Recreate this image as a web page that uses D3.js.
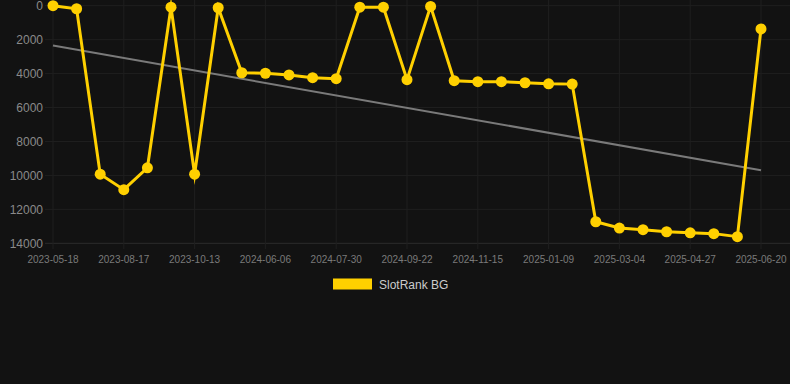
<!DOCTYPE html>
<html>
  <head>
    <script src="https://d3js.org/d3.v7.min.js"></script>
    <style>
      body {
        margin: 0;
        background-color: #121212;
        font-family: "Liberation Sans", Arial, sans-serif;
      }
    </style>
  </head>
  <body>
    <div id="chartContainer"></div>
  </body>

  <script type="text/javascript">
    const dates = [
      "2023-05-18", "2023-06-18", "2023-07-18", "2023-08-17", "2023-09-05",
      "2023-09-24", "2023-10-13", "2023-12-31", "2024-03-19", "2024-06-06",
      "2024-06-24", "2024-07-12", "2024-07-30", "2024-08-17", "2024-09-04",
      "2024-09-22", "2024-10-10", "2024-10-28", "2024-11-15", "2024-12-03",
      "2024-12-21", "2025-01-09", "2025-01-27", "2025-02-14", "2025-03-04",
      "2025-03-22", "2025-04-09", "2025-04-27", "2025-05-15", "2025-06-02",
      "2025-06-20"
    ];
    const ranks = [
      0, 180, 9930, 10840, 9550, 90, 9930, 120, 3950, 3980,
      4080, 4240, 4300, 90, 90, 4360, 40, 4420, 4480, 4480,
      4540, 4600, 4620, 12730, 13100, 13200, 13320, 13380, 13430, 13610,
      1370
    ];
    const yTicks = [0, 2000, 4000, 6000, 8000, 10000, 12000, 14000];
    const xTickLabels = [
      "2023-05-18", "2023-08-17", "2023-10-13", "2024-06-06", "2024-07-30",
      "2024-09-22", "2024-11-15", "2025-01-09", "2025-03-04", "2025-04-27",
      "2025-06-20"
    ];
    // trend line ends
    const trendValues = [2350, 9690];
    const seriesName = "SlotRank BG";

    const width = 790,
      height = 384;
    const yellow = "#ffd000";

    const svg = d3
      .select("#chartContainer")
      .append("svg")
      .attr("width", width)
      .attr("height", height);

    svg.append("rect").attr("width", width).attr("height", height).attr("fill", "#121212");

    const x = d3.scalePoint().domain(dates).range([53, 761]);
    const y = d3.scaleLinear().domain([0, 14000]).range([5.7, 243.3]);

    // grid
    svg
      .append("g")
      .selectAll("line")
      .data(yTicks)
      .enter()
      .append("line")
      .attr("x1", 45)
      .attr("x2", width)
      .attr("y1", (d) => y(d))
      .attr("y2", (d) => y(d))
      .attr("stroke", (d) => (d === 14000 ? "#2c2c2c" : "#1f1f1f"))
      .attr("stroke-width", 1);

    svg
      .append("g")
      .selectAll("line")
      .data(xTickLabels)
      .enter()
      .append("line")
      .attr("x1", (d) => x(d))
      .attr("x2", (d) => x(d))
      .attr("y1", 0)
      .attr("y2", 249)
      .attr("stroke", "#1f1f1f")
      .attr("stroke-width", 1);

    // y labels
    svg
      .append("g")
      .selectAll("text")
      .data(yTicks)
      .enter()
      .append("text")
      .attr("x", 43)
      .attr("y", (d) => y(d) + 4.5)
      .attr("text-anchor", "end")
      .attr("font-size", 12)
      .attr("fill", "#8a8a8a")
      .text((d) => d);

    // x labels
    svg
      .append("g")
      .selectAll("text")
      .data(xTickLabels)
      .enter()
      .append("text")
      .attr("x", (d) => x(d))
      .attr("y", 263)
      .attr("text-anchor", "middle")
      .attr("font-size", 10)
      .attr("fill", "#7a7a7a")
      .text((d) => d);

    // trend line
    svg
      .append("line")
      .attr("x1", x(dates[0]))
      .attr("x2", x(dates[dates.length - 1]))
      .attr("y1", y(trendValues[0]))
      .attr("y2", y(trendValues[1]))
      .attr("stroke", "#7a7a7a")
      .attr("stroke-width", 2);

    const line = d3
      .line()
      .x((d, i) => x(dates[i]))
      .y((d) => y(d));

    svg
      .append("path")
      .datum(ranks)
      .attr("d", line)
      .attr("fill", "none")
      .attr("stroke", yellow)
      .attr("stroke-width", 3)
      .attr("stroke-miterlimit", 10);

    svg
      .append("g")
      .selectAll("circle")
      .data(ranks)
      .enter()
      .append("circle")
      .attr("cx", (d, i) => x(dates[i]))
      .attr("cy", (d) => y(d))
      .attr("r", 5.5)
      .attr("fill", yellow);

    // legend
    const legend = svg.append("g");
    legend
      .append("rect")
      .attr("x", 333)
      .attr("y", 278.5)
      .attr("width", 39)
      .attr("height", 11)
      .attr("fill", yellow);
    legend
      .append("text")
      .attr("x", 379)
      .attr("y", 289)
      .attr("font-size", 12)
      .attr("fill", "#cccccc")
      .text(seriesName);
  </script>
</html>
